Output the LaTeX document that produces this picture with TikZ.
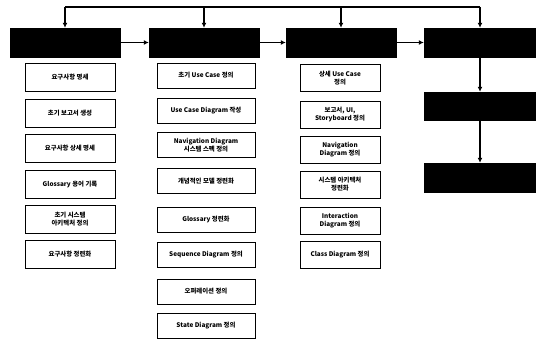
\documentclass[tikz,border=0pt]{standalone}
\usepackage{fontspec}
\setmainfont{Liberation Sans}
\newfontfamily\krfont{Noto Sans CJK KR}
\usetikzlibrary{arrows.meta}

\begin{document}
\begin{tikzpicture}[x=1pt, y=-1pt,
    phase/.style={fill=black, draw=black, minimum width=110pt, minimum height=29pt, inner sep=0pt},
    task/.style={draw, thick, align=center, inner sep=1pt,
        font=\krfont\bfseries\fontsize{6.4}{8}\selectfont},
    flow/.style={-{Latex[length=5pt, width=5pt]}, line width=1.3pt}]
        \useasboundingbox (0,0) rectangle (536,339);

        % Phases (black boxes)
        \node [phase] (p1) at (65,42.5) {};
        \node [phase] (p2) at (204,42.5) {};
        \node [phase] (p3) at (341,42.5) {};
        \node [phase, minimum width=112pt] (p4) at (480,42.5) {};
        \node [phase, minimum width=112pt, minimum height=28pt] (p5) at (480,106) {};
        \node [phase, minimum width=112pt] (p6) at (480,177.5) {};

        % Feedback line on top
        \coordinate (t1) at (65,7);
        \coordinate (t2) at (204,7);
        \coordinate (t3) at (341,7);
        \coordinate (t4) at (480,7);
        \draw [line width=1.3pt] (t1) -- (t4);
        \draw [flow] (t1) -- (p1);
        \draw [flow] (t2) -- (p2);
        \draw [flow] (t3) -- (p3);
        \draw [flow] (t4) -- (p4);

        % Phase order
        \draw [flow] (p1) -- (p2);
        \draw [flow] (p2) -- (p3);
        \draw [flow] (p3) -- (p4);
        \draw [flow] (p4) -- (p5);
        \draw [flow] (p5) -- (p6);

        % First column
        \begin{scope}[every node/.style={task, minimum width=90pt, minimum height=28pt}]
        \node (a1) at (70,77.5) {요구사항 명세};
        \node (a2) at (70,113) {초기 보고서 생성};
        \node (a3) at (70,148.5) {요구사항 상세 명세};
        \node (a4) at (70,184) {Glossary 용어 기록};
        \node (a5) at (70,219.5) {초기 시스템\\아키텍처 정의};
        \node (a6) at (70,254.5) {요구사항 정련화};
        \end{scope}

        % Second column
        \begin{scope}[every node/.style={task, minimum width=98pt, minimum height=25pt}]
        \node (b1) at (206,75.5) {초기 Use Case 정의};
        \node (b2) at (206,111) {Use Case Diagram 작성};
        \node (b3) at (206,145) {Navigation Diagram\\시스템 스펙 정의};
        \node (b4) at (206,181) {개념적인 모델 정련화};
        \node (b5) at (206,219.5) {Glossary 정련화};
        \node (b6) at (206,255) {Sequence Diagram 정의};
        \node (b7) at (206,291.5) {오퍼레이션 정의};
        \node (b8) at (206,325.5) {State Diagram 정의};
        \end{scope}

        % Third column
        \begin{scope}[every node/.style={task, minimum width=80pt, minimum height=27pt}]
        \node (c1) at (340,78) {상세 Use Case\\정의};
        \node (c2) at (340,114.5) {보고서, UI,\\Storyboard 정의};
        \node (c3) at (340,149.5) {Navigation\\Diagram 정의};
        \node (c4) at (340,184.5) {시스템 아키텍처\\정련화};
        \node (c5) at (340,220.5) {Interaction\\Diagram 정의};
        \node (c6) at (340,254.5) {Class Diagram 정의};
        \end{scope}
    \end{tikzpicture}
\end{document}
